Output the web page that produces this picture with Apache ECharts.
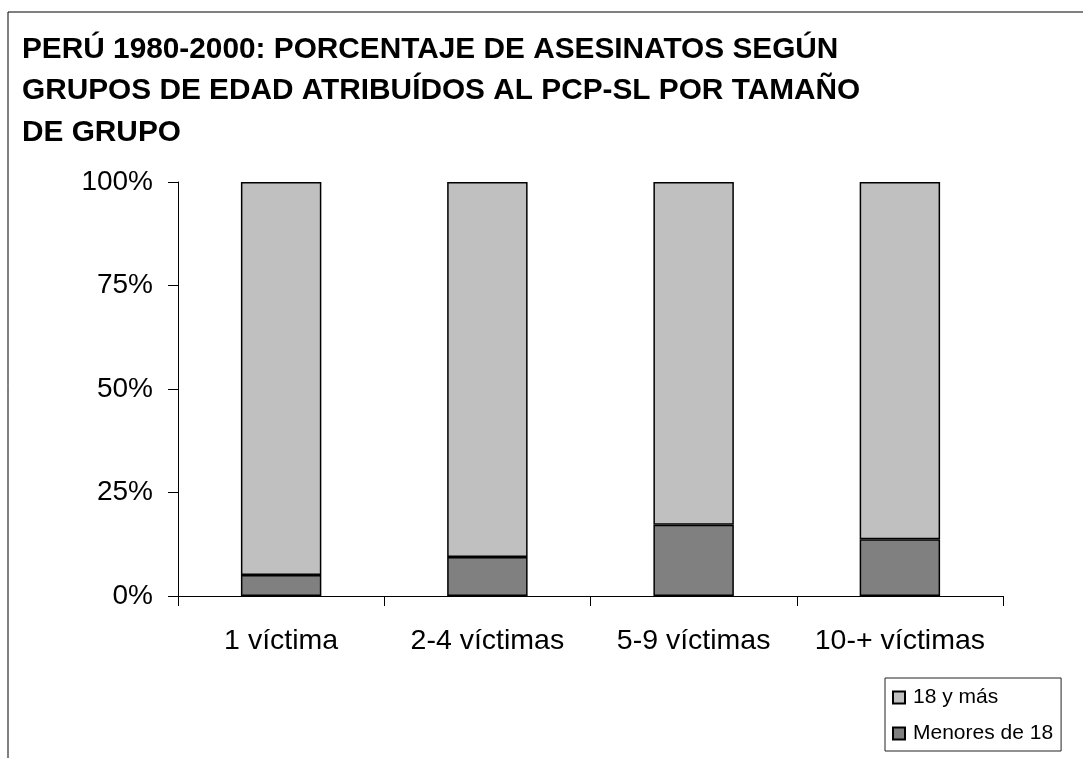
<!DOCTYPE html>
<html>
<head>
<meta charset="utf-8">
<script src="https://cdn.jsdelivr.net/npm/echarts@6/dist/echarts.min.js"></script>
<style>
    html, body { margin: 0; padding: 0; background: #fff; }
    #chart { width: 1083px; height: 758px; }
</style>
</head>
<body>
<div id="chart"></div>
<script>
// datos (porcentajes)
const categorias = ["1 víctima", "2-4 víctimas", "5-9 víctimas", "10-+ víctimas"];
const menores18 = [5.1, 9.4, 17.2, 13.7];
const mayores18 = [94.9, 90.6, 82.8, 86.3];
const yTicks = [0, 25, 50, 75, 100];

const fuente = "'Liberation Sans', Arial, sans-serif";

const chart = echarts.init(document.getElementById("chart"));

chart.setOption({
    backgroundColor: "#fff",
    animation: false,
    title: {
        text: "PERÚ 1980-2000: PORCENTAJE DE ASESINATOS SEGÚN\nGRUPOS DE EDAD ATRIBUÍDOS AL PCP-SL POR TAMAÑO\nDE GRUPO",
        left: 22,
        top: 29,
        padding: 0,
        textStyle: {
            fontFamily: fuente,
            fontWeight: "bold",
            fontSize: 29.8,
            lineHeight: 41.5,
            color: "#000"
        }
    },
    graphic: [
        {
            // marco exterior del grafico
            type: "rect",
            shape: { x: 8, y: 12, width: 1200, height: 900 },
            style: { fill: "none", stroke: "#000", lineWidth: 1 },
            silent: true
        }
    ],
    legend: {
        data: ["18 y más", "Menores de 18"],
        orient: "vertical",
        left: 885,
        top: 678,
        padding: [9, 8, 7, 7],
        itemGap: 15,
        itemWidth: 12,
        itemHeight: 12,
        icon: "rect",
        borderColor: "#222",
        borderWidth: 1,
        textStyle: {
            fontFamily: fuente,
            fontSize: 21,
            color: "#000",
            padding: [0, 0, 0, 3]
        }
    },
    grid: {
        left: 178,
        right: 80,
        top: 182,
        bottom: 162
    },
    xAxis: {
        type: "category",
        data: categorias,
        axisLine: { lineStyle: { color: "#000", width: 1 } },
        axisTick: { show: true, interval: 0, length: 10, lineStyle: { color: "#000" } },
        axisLabel: {
            interval: 0,
            margin: 31,
            fontFamily: fuente,
            fontSize: 28.5,
            color: "#000"
        }
    },
    yAxis: {
        type: "value",
        min: yTicks[0],
        max: yTicks[yTicks.length - 1],
        interval: 25,
        splitLine: { show: false },
        axisLine: { show: true, lineStyle: { color: "#000", width: 1 } },
        axisTick: { show: true, length: 10, lineStyle: { color: "#000" } },
        axisLabel: {
            margin: 25,
            formatter: "{value}%",
            fontFamily: fuente,
            fontSize: 28,
            color: "#000"
        }
    },
    series: [
        {
            name: "Menores de 18",
            type: "bar",
            stack: "total",
            barWidth: "39%",
            data: menores18,
            itemStyle: {
                color: "#808080",
                borderColor: "#000",
                borderWidth: 1.5
            }
        },
        {
            name: "18 y más",
            type: "bar",
            stack: "total",
            barWidth: "39%",
            data: mayores18,
            itemStyle: {
                color: "#c0c0c0",
                borderColor: "#000",
                borderWidth: 1.5
            }
        }
    ]
});
</script>
</body>
</html>
